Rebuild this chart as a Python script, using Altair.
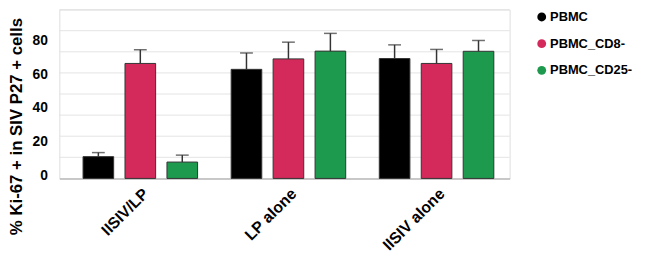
import altair as alt
import pandas as pd

groups = ["IISIV/LP", "LP alone", "IISIV alone"]
series = ["PBMC", "PBMC_CD8-", "PBMC_CD25-"]
colors = ["#000000", "#D42A5B", "#1E9A4E"]

pbmc = [12.9, 64.6, 71.0]
pbmc_err = [2.4, 9.7, 8.1]
cd8 = [68.1, 70.8, 68.1]
cd8_err = [8.1, 9.9, 8.3]
cd25 = [9.7, 75.4, 75.3]
cd25_err = [4.1, 10.5, 6.4]

grid_values = [12.5, 25, 37.5, 50, 62.5, 75, 87.5, 100]
tick_values = [0, 20, 40, 60, 80]

rows = []
for s, vals, errs in [(series[0], pbmc, pbmc_err), (series[1], cd8, cd8_err), (series[2], cd25, cd25_err)]:
    for g, v, e in zip(groups, vals, errs):
        rows.append({"group": g, "series": s, "value": v, "top": v + e})
df = pd.DataFrame(rows)
grid_df = pd.DataFrame({"y": grid_values})

FONT = "Liberation Sans"

xenc = alt.X("group:N", sort=groups,
             scale=alt.Scale(paddingInner=0.2267, paddingOuter=0.1333, align=0.6),
             axis=alt.Axis(title=None, labelAngle=-45, labelFontSize=16, labelFontWeight="bold",
                           labelFont=FONT, labelColor="#000", ticks=False, labelPadding=7,
                           domainColor="#bbbbbb", domainWidth=1.5))
xoff = alt.XOffset("series:N", sort=series, scale=alt.Scale(paddingInner=0.27, paddingOuter=0))
yscale = alt.Scale(domain=[0, 100], nice=False)
yaxis = alt.Axis(values=tick_values, grid=False, domain=False, ticks=False, labelPadding=12,
                 labelFontSize=14, labelFontWeight="bold", labelFont=FONT, labelColor="#000",
                 labelOffset=-3,
                 title="% Ki-67 + in SIV P27 + cells", titleFontSize=17, titleFontWeight="bold",
                 titleFont=FONT, titleColor="#000", titleX=-43, titleY=118, titleAngle=270,
                 titleAlign="center", titleBaseline="middle")

grid = alt.Chart(grid_df).mark_rule(color="#e4e4e4", strokeWidth=1).encode(
    y=alt.Y("y:Q", scale=yscale, axis=yaxis)
)

base = alt.Chart(df)
bars = base.mark_bar(stroke="#333333", strokeWidth=1).encode(
    x=xenc, xOffset=xoff,
    y=alt.Y("value:Q", scale=yscale, axis=yaxis),
    color=alt.Color("series:N", sort=series,
                    scale=alt.Scale(domain=series, range=colors),
                    legend=alt.Legend(title=None, orient="none", legendX=482, legendY=1,
                                      symbolType="circle", symbolSize=80, symbolStrokeWidth=0,
                                      labelFontSize=13, labelFontWeight="bold", labelFont=FONT,
                                      labelColor="#000", rowPadding=13, labelOffset=2, padding=0)),
)
err = base.mark_rule(color="#333333", strokeWidth=1.5).encode(
    x=xenc, xOffset=xoff,
    y=alt.Y("value:Q", scale=yscale, axis=yaxis), y2="top:Q",
)
caps = base.mark_tick(color="#333333", thickness=1.5, size=13, orient="horizontal").encode(
    x=xenc, xOffset=xoff,
    y=alt.Y("top:Q", scale=yscale, axis=yaxis),
)

chart = alt.layer(grid, bars, err, caps).properties(
    width=456, height=171,
    autosize=alt.AutoSizeParams(type="none"),
    padding={"left": 52, "top": 0, "right": 129, "bottom": 80},
).configure_view(strokeWidth=0, stroke="transparent").configure(background="white")

chart.save("out.html", embed_options={"renderer": "svg", "actions": False})
